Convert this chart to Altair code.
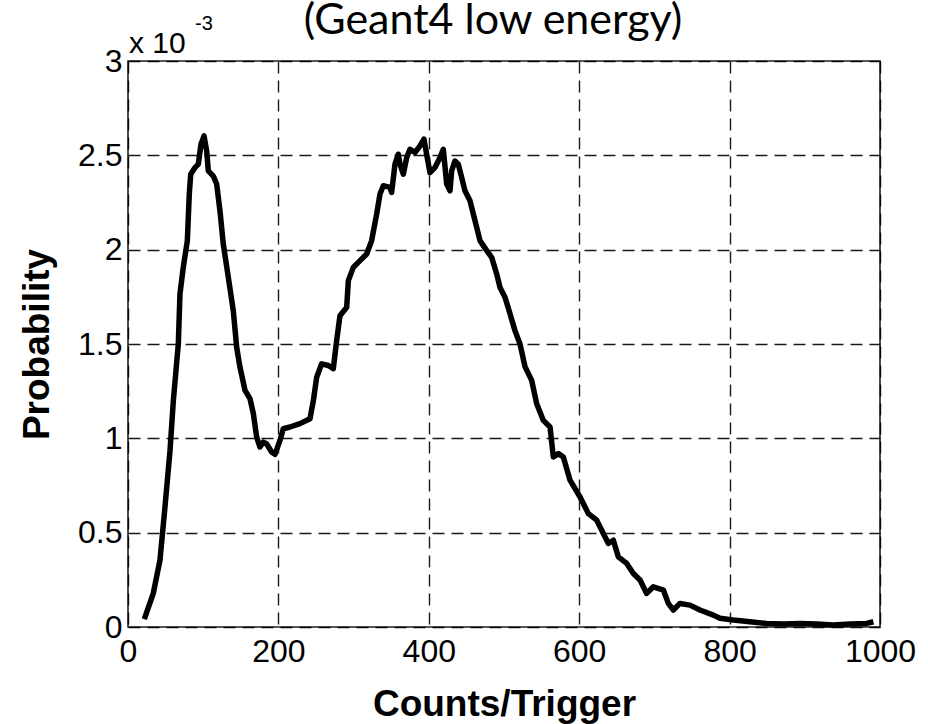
import altair as alt
import pandas as pd

# ---- data (probability in units of 1e-3) ----
counts = [21.7, 33.6, 42.5, 49.2, 55.9, 60.3, 66.9, 69.1, 73.5, 78.9, 81.5, 83.4, 89.1, 93.5,
          97.1, 101.1, 104.6, 106.8, 113.5, 117.9, 122.3, 126.7, 133.4, 140.0, 144.5, 148.9,
          155.6, 162.2, 166.7, 171.1, 175.5, 180.0, 184.4, 191.0, 195.5, 202.1, 206.5, 215.4,
          228.7, 242.0, 246.5, 250.9, 257.5, 266.4, 273.0, 277.5, 281.9, 290.8, 293.0, 299.6,
          308.5, 317.4, 324.0, 330.7, 335.1, 339.5, 348.4, 350.6, 355.0, 359.4, 361.7, 366.1,
          370.6, 375.0, 381.6, 388.3, 393.6, 397.1, 401.6, 408.2, 414.9, 419.3, 423.8, 428.2,
          430.4, 434.8, 439.2, 443.7, 448.1, 454.8, 459.2, 463.7, 468.1, 477.0, 483.6, 490.3,
          494.7, 501.3, 508.0, 514.6, 521.3, 527.9, 536.8, 543.5, 552.3, 561.2, 565.6, 572.3,
          578.9, 587.8, 601.1, 612.2, 623.3, 632.1, 638.8, 645.4, 652.0, 663.2, 672.0, 680.9,
          689.7, 698.6, 711.9, 718.5, 725.2, 734.0, 747.3, 760.6, 778.4, 787.2, 804.9, 827.1,
          849.3, 871.5, 893.6, 915.8, 937.9, 960.0, 982.3, 991.2]
prob = [0.042, 0.178, 0.354, 0.637, 0.937, 1.2, 1.5, 1.766, 1.906, 2.048, 2.295, 2.40, 2.435, 2.453,
        2.559, 2.603, 2.524, 2.418, 2.39, 2.348, 2.206, 2.03, 1.853, 1.677, 1.483, 1.377,
        1.254, 1.21, 1.131, 1.007, 0.954, 0.98, 0.97, 0.928, 0.915, 0.989, 1.051, 1.06,
        1.078, 1.104, 1.2, 1.324, 1.395, 1.386, 1.369, 1.519, 1.65, 1.695, 1.836, 1.906,
        1.942, 1.977, 2.048, 2.189, 2.295, 2.339, 2.33, 2.303, 2.453, 2.506, 2.453, 2.4,
        2.488, 2.532, 2.515, 2.55, 2.586, 2.506, 2.408, 2.435, 2.488, 2.532, 2.348, 2.312,
        2.418, 2.47, 2.453, 2.383, 2.312, 2.259, 2.189, 2.118, 2.048, 1.995, 1.959, 1.871,
        1.8, 1.748, 1.66, 1.571, 1.5, 1.38, 1.307, 1.183, 1.095, 1.06, 0.901, 0.919,
        0.901, 0.778, 0.689, 0.601, 0.566, 0.496, 0.443, 0.46, 0.372, 0.337, 0.284, 0.249,
        0.178, 0.213, 0.196, 0.125, 0.09, 0.125, 0.116, 0.09, 0.063, 0.046, 0.037, 0.028,
        0.019, 0.016, 0.019, 0.016, 0.011, 0.016, 0.019, 0.028]

x_ticks = [0, 200, 400, 600, 800, 1000]
y_ticks = [0, 0.5, 1, 1.5, 2, 2.5, 3]
title_text = "(Geant4 low energy)"
x_title = "Counts/Trigger"
y_title = "Probability"
exp_base = ["x 10"]
exp_power = ["-3"]

df = pd.DataFrame({"counts": counts, "prob": prob})

W, H = 752, 566
LABEL_FONT = "Liberation Sans"

line = alt.Chart(df).mark_line(color="black", strokeWidth=5.5, strokeJoin="round").encode(
    x=alt.X("counts:Q",
            scale=alt.Scale(domain=[0, 1000], nice=False),
            axis=alt.Axis(values=x_ticks, title=x_title, labelExpr="datum.value",
                          grid=True, gridColor="#000000", gridDash=[12, 7], gridWidth=1.4,
                          gridOpacity=0.9, ticks=False, tickSize=0, domain=False,
                          labelFont=LABEL_FONT, labelFontSize=32, labelColor="#000000",
                          labelPadding=9, labelFlush=False,
                          titleFont=LABEL_FONT, titleFontSize=37, titleFontWeight="bold",
                          titleColor="#000000", titleX=376, titleY=88,
                          titleAlign="center", titleBaseline="alphabetic")),
    y=alt.Y("prob:Q",
            scale=alt.Scale(domain=[0, 3], nice=False),
            axis=alt.Axis(values=y_ticks, title=y_title, labelExpr="datum.value",
                          grid=True, gridColor="#000000", gridDash=[12, 7], gridWidth=1.4,
                          gridOpacity=0.9, ticks=False, tickSize=0, domain=False,
                          labelFont=LABEL_FONT, labelFontSize=32, labelColor="#000000",
                          labelPadding=6, labelFlush=False,
                          titleFont=LABEL_FONT, titleFontSize=37, titleFontWeight="bold",
                          titleColor="#000000", titleAngle=270, titleX=-80, titleY=283,
                          titleAlign="center", titleBaseline="alphabetic")),
)

title_df = pd.DataFrame({"t": [title_text]})
title = alt.Chart(title_df).mark_text(
    font="Lato", fontSize=43, align="center", baseline="alphabetic", color="#000000"
).encode(x=alt.value(365), y=alt.value(-27), text="t:N")

base_df = pd.DataFrame({"t": exp_base})
exp1 = alt.Chart(base_df).mark_text(
    font=LABEL_FONT, fontSize=30, align="left", baseline="alphabetic", color="#000000"
).encode(x=alt.value(1), y=alt.value(-8), text="t:N")

pow_df = pd.DataFrame({"t": exp_power})
exp2 = alt.Chart(pow_df).mark_text(
    font=LABEL_FONT, fontSize=20, align="left", baseline="alphabetic", color="#000000"
).encode(x=alt.value(67), y=alt.value(-31), text="t:N")

chart = alt.layer(line, title, exp1, exp2).properties(
    width=W, height=H,
    autosize=alt.AutoSizeParams(type="none"),
    padding={"left": 128, "top": 61, "right": 48, "bottom": 97},
    background="white",
).configure_view(stroke="#222222", strokeWidth=1.6)

chart.save("out.html", embed_options={"renderer": "svg", "actions": False})
